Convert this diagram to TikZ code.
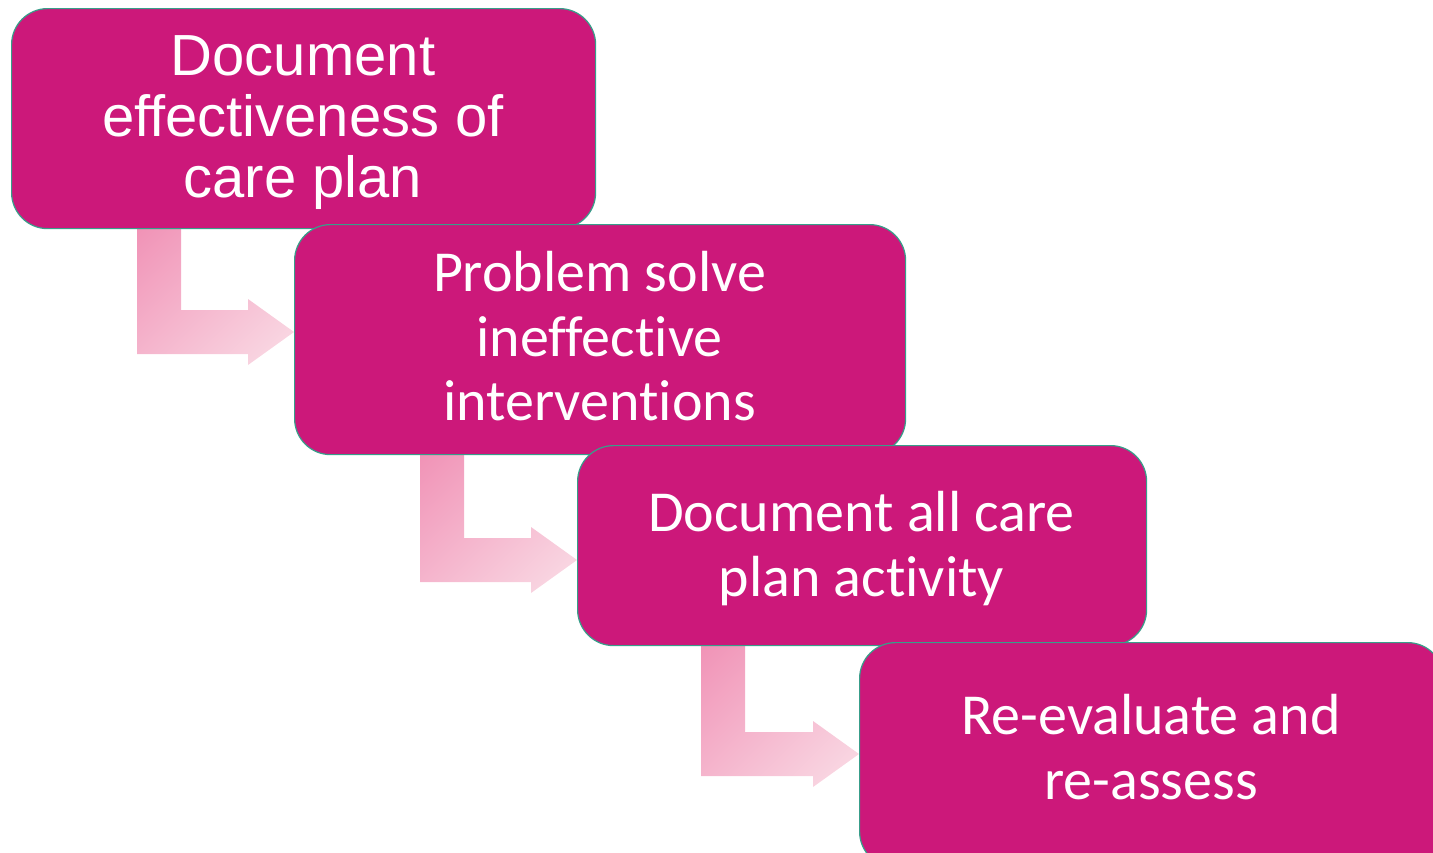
\documentclass[tikz,border=0pt]{standalone}
\usepackage{fontspec}
\setmainfont{Carlito}[Ligatures=CommonOff]
\newfontfamily\arialf{Liberation Sans}
\usetikzlibrary{shadings}
\definecolor{boxfill}{RGB}{204,24,122}
\definecolor{boxline}{RGB}{56,158,138}
\definecolor{arrA}{RGB}{240,143,180}
\definecolor{arrM}{RGB}{245,183,206}
\definecolor{arrB}{RGB}{250,222,231}
\tikzset{
  stepbox/.style={rectangle, rounded corners=36pt, fill=boxfill, draw=boxline,
    line width=1.2pt, inner sep=0pt, anchor=north west},
  steptext/.style={text=white, align=center, inner sep=0pt},
  calfont/.style={font=\fontsize{58}{64.5}\selectfont},
  arifont/.style={font=\arialf\fontsize{58}{61}\selectfont},
  bentarrow/.style={upper left=arrA, upper right=arrM, lower left=arrM, lower right=arrB}
}
% #1 stem left x, #2 stem top y, #3 bar top y, #4 tip x
\newcommand{\bentarr}[4]{%
  \shade[bentarrow] (#1,#2) -- (#1+44,#2) -- (#1+44,#3) -- (#4-46,#3) -- (#4-46,#3-11)
    -- (#4,#3+22) -- (#4-46,#3+55) -- (#4-46,#3+44) -- (#1,#3+44) -- cycle;}
\begin{document}
\begin{tikzpicture}[x=1pt,y=-1pt]
\useasboundingbox (0,0) rectangle (1433,852);
\clip (0,0) rectangle (1433,852);
% connectors (drawn beneath the boxes)
\bentarr{137}{215}{310}{294}
\bentarr{420}{440}{538}{577}
\bentarr{701}{630}{732}{859}
% boxes
\node[stepbox, minimum width=584pt, minimum height=220pt] (b1) at (11,8) {};
\node[stepbox, minimum width=611pt, minimum height=230pt] (b2) at (294,224) {};
\node[stepbox, minimum width=569pt, minimum height=200pt] (b3) at (577,445) {};
\node[stepbox, minimum width=584pt, minimum height=225pt] (b4) at (859,642) {};
% texts
\node[steptext, arifont] (t1) at (303,123) {Document\\effectiveness of\\care plan};
\node[steptext, calfont] (t2) at (599.5,336.5) {Problem solve\\ineffective\\interventions};
\node[steptext, calfont] (t3) at (861.5,548.5) {Document all care\\plan activity};
\node[steptext, calfont] (t4) at (1151,747) {Re-evaluate and\\re-assess};
\end{tikzpicture}
\end{document}
